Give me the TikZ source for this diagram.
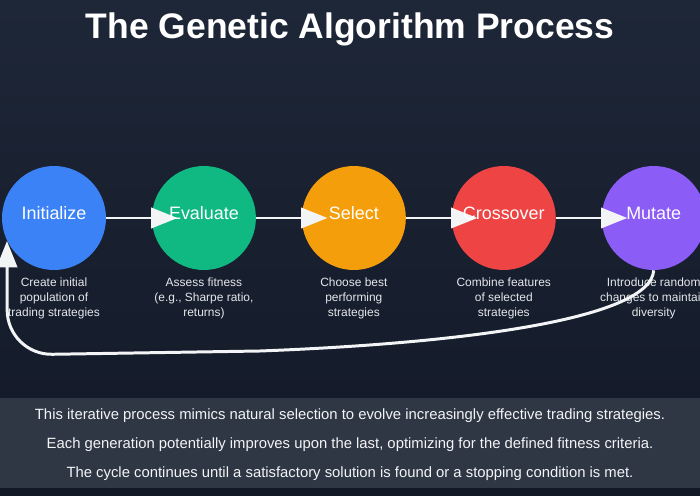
\documentclass[tikz,border=0pt]{standalone}
\usepackage{fontspec}
\setmainfont{Liberation Sans}
\usetikzlibrary{positioning,arrows.meta,calc}
\definecolor{bgtop}{HTML}{1E2738}
\definecolor{bgbottom}{HTML}{121826}
\definecolor{panelgray}{HTML}{2F3745}
\definecolor{initblue}{HTML}{3B82F6}
\definecolor{evalgreen}{HTML}{10B981}
\definecolor{selorange}{HTML}{F59E0B}
\definecolor{crossred}{HTML}{EF4444}
\definecolor{mutpurple}{HTML}{8B5CF6}
\definecolor{edgewhite}{HTML}{F3F4F6}
\definecolor{desctext}{HTML}{E5E7EB}
\tikzset{
  stage/.style={circle,minimum size=2.08cm,inner sep=0pt},
  stagelabel/.style={text=white,font=\fontsize{10.2}{12}\selectfont,anchor=base,inner sep=0pt},
  stagedesc/.style={text=desctext,align=center,font=\fontsize{6.8}{8.5}\selectfont,inner sep=0pt},
  summary/.style={text=edgewhite,font=\fontsize{8.45}{10}\selectfont,inner sep=0pt},
  flowedge/.style={-{Triangle[length=15pt,width=11.5pt]},line width=1.7pt,draw=edgewhite}
}

\begin{document}
\begin{tikzpicture}[x=0.02cm,y=-0.02cm,node distance=0.905cm]
  \fill[top color=bgtop,bottom color=bgbottom] (0,0) rectangle (700,496);
  \useasboundingbox (0,0) rectangle (700,496);
  \node[text=white,font=\bfseries\fontsize{20.2}{22}\selectfont] (title) at (350,29) {The Genetic Algorithm Process};
  % stages
  \node[stage,fill=initblue] (ini) at (54,218) {};
  \node[stage,fill=evalgreen,right=of ini] (eval) {};
  \node[stage,fill=selorange,right=of eval] (sel) {};
  \node[stage,fill=crossred,right=of sel] (cross) {};
  \node[stage,fill=mutpurple,right=of cross] (mut) {};
  \draw[flowedge] (ini.east) -- ($(eval.west)+(26,0)$);
  \draw[flowedge] (eval.east) -- ($(sel.west)+(26,0)$);
  \draw[flowedge] (sel.east) -- ($(cross.west)+(26,0)$);
  \draw[flowedge] (cross.east) -- ($(mut.west)+(26,0)$);
  \node[stagelabel] (iniT) at ($(ini.center)+(0,1.5)$) {Initialize};
  \node[stagelabel] (evalT) at ($(eval.center)+(0,1.5)$) {Evaluate};
  \node[stagelabel] (selT) at ($(sel.center)+(0,1.5)$) {Select};
  \node[stagelabel] (crossT) at ($(cross.center)+(0,1.5)$) {Crossover};
  \node[stagelabel] (mutT) at ($(mut.center)+(0,1.5)$) {Mutate};
  \node[stagedesc,below=0.14cm of ini] (iniD) {Create initial\\population of\\trading strategies};
  \node[stagedesc,below=0.14cm of eval] (evalD) {Assess fitness\\(e.g., Sharpe ratio,\\returns)};
  \node[stagedesc,below=0.14cm of sel] (selD) {Choose best\\performing\\strategies};
  \node[stagedesc,below=0.14cm of cross] (crossD) {Combine features\\of selected\\strategies};
  \node[stagedesc,below=0.14cm of mut] (mutD) {Introduce random\\changes to maintain\\diversity};
  % back to the start
  \draw[flowedge] (mut.south) .. controls (651,318) and (470,343) .. (260,351)
    [rounded corners=0.9cm] -- (7.3,355) -- (ini.206);
  % summary panel
  \fill[panelgray] (0,398) rectangle (700,488);
  \node[summary] (sum1) at (350,416) {This iterative process mimics natural selection to evolve increasingly effective trading strategies.};
  \node[summary] (sum2) at (350,445) {Each generation potentially improves upon the last, optimizing for the defined fitness criteria.};
  \node[summary] (sum3) at (350,474) {The cycle continues until a satisfactory solution is found or a stopping condition is met.};
\end{tikzpicture}
\end{document}
